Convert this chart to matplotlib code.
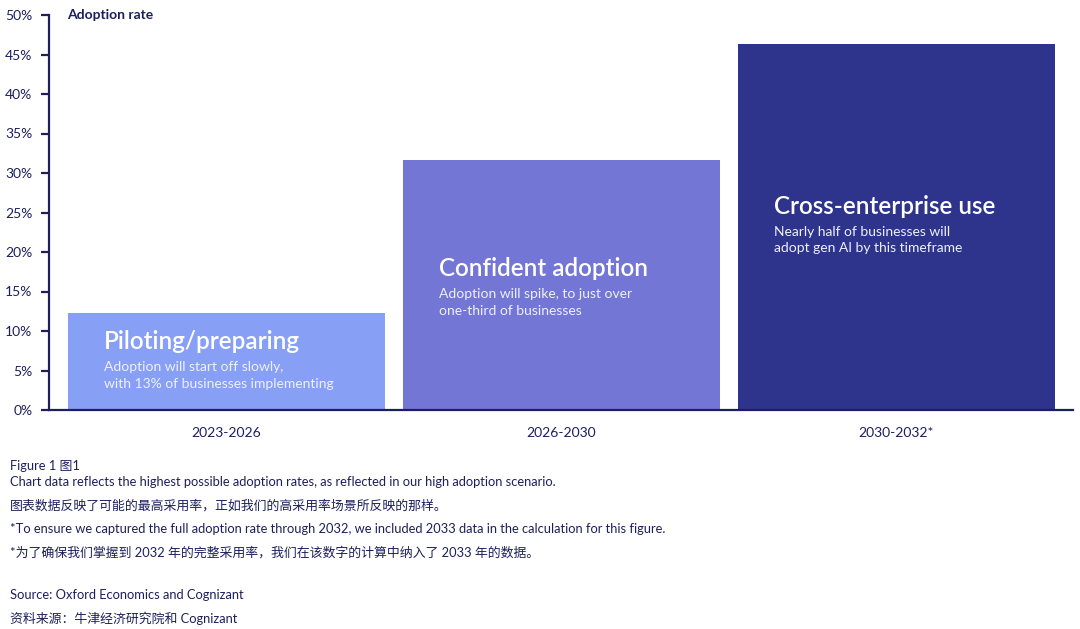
import matplotlib
matplotlib.use("Agg")
import matplotlib.pyplot as plt

plt.rcParams['font.family'] = ['Lato', 'Noto Sans CJK SC', 'DejaVu Sans']

# data
periods = ['2023-2026', '2026-2030', '2030-2032*']
adoption = [12.3, 31.6, 46.3]
titles = ['Piloting/preparing', 'Confident adoption', 'Cross-enterprise use']
notes = ['Adoption will start off slowly,\nwith 13% of businesses implementing',
         'Adoption will spike, to just over\none-third of businesses',
         'Nearly half of businesses will\nadopt gen AI by this timeframe']
yticks = [0, 5, 10, 15, 20, 25, 30, 35, 40, 45, 50]

footnotes = [
    'Figure 1 图1',
    'Chart data reflects the highest possible adoption rates, as reflected in our high adoption scenario.',
    '图表数据反映了可能的最高采用率，正如我们的高采用率场景所反映的那样。',
    '*To ensure we captured the full adoption rate through 2032, we included 2033 data in the calculation for this figure.',
    '*为了确保我们掌握到 2032 年的完整采用率，我们在该数字的计算中纳入了 2033 年的数据。',
    'Source: Oxford Economics and Cognizant',
    '资料来源：牛津经济研究院和 Cognizant',
]

navy = '#1c1f5c'
colors = ['#87a0f5', '#7376d5', '#2e348c']
title_y = [8.7, 17.9, 25.8]   # label placement inside the bars
bar_w = 0.946

fig = plt.figure(figsize=(10.8, 6.29), dpi=100)
ax = fig.add_axes([49 / 1080, 1 - 410 / 629, (1073 - 49) / 1080, 395 / 629])

x = list(range(len(periods)))
ax.bar(x, adoption, width=bar_w, color=colors, zorder=1)

ax.set_xlim(-0.53, 2.527)
ax.set_ylim(0, 50)
ax.set_yticks(yticks)
ax.set_yticklabels([f'{v}%' for v in yticks])
ax.set_xticks(x)
ax.set_xticklabels(periods)

for s in ['top', 'right']:
    ax.spines[s].set_visible(False)
for s in ['left', 'bottom']:
    ax.spines[s].set_color(navy)
    ax.spines[s].set_linewidth(1.6)
    ax.spines[s].set_zorder(3)
ax.tick_params(axis='y', length=6, width=1.6, color=navy, labelcolor=navy,
               labelsize=10, pad=6)
ax.tick_params(axis='x', length=0, labelcolor=navy, labelsize=10, pad=12)

ax.text(0.018, 1.0, 'Adoption rate', transform=ax.transAxes, color=navy,
        fontsize=10, fontweight='bold', va='center', ha='left')

off = 0.107
for i in x:
    left = i - bar_w / 2 + off
    ax.text(left, title_y[i], titles[i], color='white', fontsize=17.5,
            fontweight='semibold', va='center', ha='left')
    ax.text(left, title_y[i] - 2.5, notes[i], color='#eef0ff', fontsize=10,
            va='top', ha='left', linespacing=1.45)

ys = [466, 482, 505, 529, 552, 595, 618]
for t, y in zip(footnotes, ys):
    fig.text(10 / 1080, 1 - y / 629, t, color=navy, fontsize=9.3,
             va='center', ha='left')

fig.savefig('out.png', dpi=100, facecolor='white')
